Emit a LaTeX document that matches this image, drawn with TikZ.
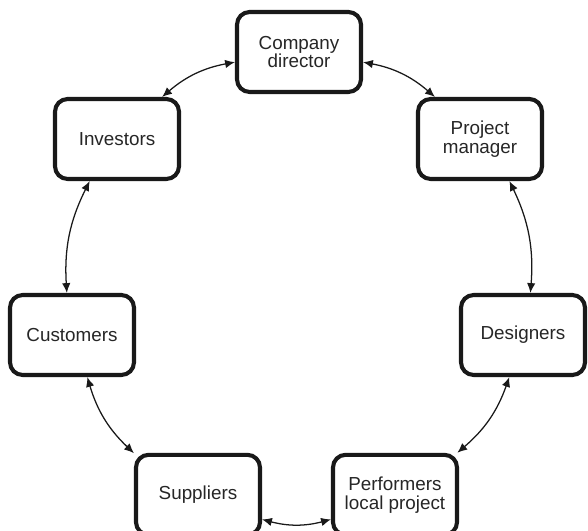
\documentclass[tikz,border=0pt]{standalone}
\usepackage{fontspec}
\setmainfont{Liberation Sans}
\usepackage{xcolor}
\usepackage{tikz}
\usetikzlibrary{calc,arrows,arrows.meta,positioning,shapes}

\begin{document}
\begin{tikzpicture}[
    role/.style={draw=black!90,line width=2.9pt,rounded corners=9pt,fill=white,
      minimum width=3.1cm,minimum height=2cm,align=center,
      font=\fontsize{13.4}{13.4}\selectfont,text=black!85},
    link/.style={{Latex[length=7pt,width=6pt]}-{Latex[length=7pt,width=6pt]},
      line width=0.9pt,black!90,bend right=15}]
  \useasboundingbox (0,0) rectangle (14.7,13.25);
	  \node[role] (dir)  at (7.475,11.95) {Company\\director};
	  \node[role] (pm)   at (12.0,9.775)  {Project\\manager};
	  \node[role] (des)  at (13.075,4.875) {Designers};
	  \node[role] (perf) at (9.875,0.88)  {Performers\\local project};
	  \node[role] (sup)  at (4.95,0.88)   {Suppliers};
	  \node[role] (cust) at (1.8,4.875)   {Customers};
	  \node[role] (inv)  at (2.925,9.775) {Investors};
	  % links round the circle
	  \draw[link] (dir.189)  to (inv.43);
	  \draw[link] (inv.237)  to (cust.97);
	  \draw[link] (cust.290) to (sup.147);
	  \draw[link] (sup.339)  to (perf.201);
	  \draw[link] (perf.34)  to (des.252);
	  \draw[link] (des.80)   to (pm.305);
	  \draw[link] (pm.137)   to (dir.351);
	\end{tikzpicture}
\end{document}
